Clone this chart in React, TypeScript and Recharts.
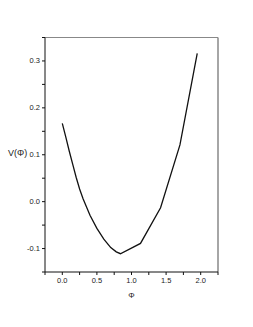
import { LineChart, Line, XAxis, YAxis, ReferenceLine } from "recharts";

const phi = [0, 0.05, 0.1, 0.15, 0.2, 0.25, 0.3, 0.4, 0.5, 0.6, 0.7, 0.78, 0.84, 1.13, 1.42, 1.7, 1.9, 1.95];
const potential = [0.167, 0.138, 0.108, 0.08, 0.052, 0.027, 0.006, -0.029, -0.057, -0.080, -0.098, -0.107, -0.111, -0.089, -0.013, 0.121, 0.277, 0.316];

const xTicks = [-0.25, 0, 0.25, 0.5, 0.75, 1, 1.25, 1.5, 1.75, 2, 2.25];
const yTicks = [-0.15, -0.1, -0.05, 0, 0.05, 0.1, 0.15, 0.2, 0.25, 0.3, 0.35];

const data = phi.map((p, i) => ({ phi: p, v: potential[i] }));

const font = "'Liberation Sans', Arial, sans-serif";

const isMultiple = (v: number, step: number) =>
  Math.abs(v / step - Math.round(v / step)) < 1e-6;

function XTick(props: any) {
  const { x, y, payload } = props;
  const v = payload.value as number;
  if (!isMultiple(v, 0.5) || v < 0 || v > 2) return null;
  return (
    <text x={x} y={y} dy={6} textAnchor="middle" fontSize={7.5} fill="#222" fontFamily={font}>
      {v.toFixed(1)}
    </text>
  );
}

function YTick(props: any) {
  const { x, y, payload } = props;
  const v = payload.value as number;
  if (!isMultiple(v, 0.1) || v < -0.1 || v > 0.3) return null;
  return (
    <text x={x} y={y} dy={2.5} textAnchor="end" fontSize={7.5} fill="#222" fontFamily={font}>
      {v.toFixed(1)}
    </text>
  );
}

export default function App() {
  return (
    <div style={{ position: "absolute", left: 0, top: 0, background: "#fff" }}>
      <LineChart
        width={253}
        height={327}
        data={data}
        margin={{ top: 37.5, right: 35, bottom: 15, left: 0 }}
      >
        <XAxis
          dataKey="phi"
          type="number"
          domain={[-0.25, 2.25]}
          ticks={xTicks}
          interval={0}
          height={40}
          tickSize={3}
          tickMargin={2}
          stroke="#111"
          tick={<XTick />}
          label={{ value: "Φ", position: "insideBottom", offset: 14, fontSize: 8, fill: "#222", fontFamily: font }}
        />
        <YAxis
          type="number"
          domain={[-0.15, 0.35]}
          ticks={yTicks}
          interval={0}
          width={45}
          tickSize={3}
          tickMargin={2}
          stroke="#111"
          tick={<YTick />}
          label={{ value: "V(Φ)", position: "insideLeft", offset: 8, dy: -2, fontSize: 9, fill: "#222", fontFamily: font }}
        />
        <ReferenceLine y={0.35} stroke="#888" strokeWidth={1.2} />
        <ReferenceLine x={2.25} stroke="#888" strokeWidth={1.5} />
        <Line
          type="linear"
          dataKey="v"
          stroke="#111"
          strokeWidth={1.3}
          dot={false}
          isAnimationActive={false}
        />
      </LineChart>
    </div>
  );
}
